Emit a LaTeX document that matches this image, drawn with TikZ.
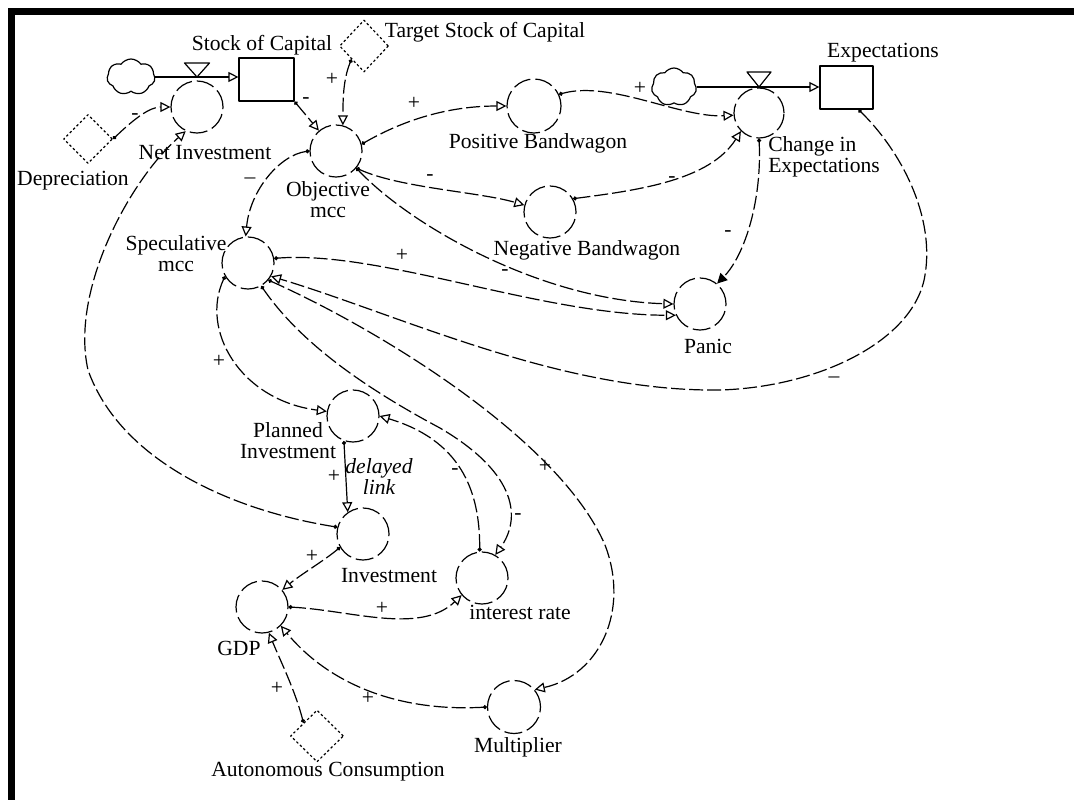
\documentclass[tikz,border=0pt]{standalone}
\usepackage{fontspec}
\setmainfont{Liberation Serif}
\usetikzlibrary{arrows.meta,shapes.geometric,shapes.symbols}
\newcommand{\diafont}{\fontsize{10.8}{10.5}\selectfont}

\begin{document}
\begin{tikzpicture}[x=0.5pt,y=-0.5pt,line width=0.6pt,line join=round,
    >={Triangle[open,length=5pt,width=5pt]},font=\diafont,
    aux/.style={circle,draw,dash pattern=on 9pt off 2.5pt,minimum size=26pt,inner sep=0pt},
    stock/.style={rectangle,draw,inner sep=0pt},
    const/.style={diamond,draw,dash pattern=on 1.2pt off 1.2pt,minimum width=24.5pt,minimum height=24.5pt,inner sep=0pt},
    src/.style={cloud,draw,cloud puffs=7,cloud puff arc=110,aspect=1.3,inner sep=0pt},
    lnk/.style={dash pattern=on 7pt off 2pt,{Circle[length=2pt]}->},
    pipe/.style={->},
    sgn/.style={inner sep=0pt}]
  \fill[white] (0,0) rectangle (1074,800);
  \useasboundingbox (0,0) rectangle (1074,800);
  \fill (8,8) rectangle (1074,15);
  \fill (8,8) rectangle (15,800);

  % stocks, flows and variables
  \node[src,minimum width=24pt,minimum height=18pt] (srcA) at (131,77) {};
  \node[stock,minimum width=27.5pt,minimum height=21.5pt] (StockK) at (266.5,79.5) {};
  \coordinate (vA) at (197,70);
  \node[aux] (NetInv) at (197,107) {};
  \node[const] (Deprec) at (88,139) {};
  \node[const,minimum height=26pt] (TargetK) at (364,46) {};
  \node[aux] (Obj) at (336,151) {};
  \node[aux,minimum size=27pt] (PosB) at (534,106) {};
  \node[aux] (NegB) at (550,212) {};
  \node[src,minimum width=22.5pt,minimum height=19pt] (srcB) at (674,87) {};
  \coordinate (vB) at (759,79);
  \node[aux,minimum size=25pt] (ChgE) at (759,113) {};
  \node[stock,minimum width=26.5pt,minimum height=21.5pt] (ExpB) at (846.5,87.5) {};
  \node[aux] (Spec) at (248,263) {};
  \node[aux] (Panic) at (700,304) {};
  \node[aux] (PlanI) at (353,416) {};
  \node[aux] (Invest) at (363,534) {};
  \node[aux] (IntR) at (482,578) {};
  \node[aux] (GDP) at (262,607) {};
  \node[const,minimum width=26.5pt,minimum height=26pt] (AutoC) at (317,736) {};
  \node[aux,minimum size=26.5pt] (Multi) at (514,707) {};

  % names
  \node (lStockK) at (262,45) {Stock of Capital};
  \node (lNetInv) at (205,153) {Net Investment};
  \node (lDeprec) at (73,181) {Depreciation};
  \node (lTargetK) at (485,32) {Target Stock of Capital};
  \node[align=center] (lObj) at (328,200) {Objective\\mcc};
  \node (lPosB) at (538,143) {Positive Bandwagon};
  \node (lNegB) at (587,250) {Negative Bandwagon};
  \node[align=left,anchor=west] (lChgE) at (761,157) {Change in\\Expectations};
  \node (lExpB) at (883,53) {Expectations};
  \node[align=center] (lSpec) at (176,254) {Speculative\\mcc};
  \node (lPanic) at (708,346) {Panic};
  \node[align=center,inner sep=1pt] (lPlanI) at (288,441) {Planned\\Investment};
  \node[align=center,font=\diafont\itshape] (lDelay) at (379,476) {delayed\\link};
  \node (lInvest) at (389,576) {Investment};
  \node (lIntR) at (520,612) {interest rate};
  \node (lGDP) at (239,648) {GDP};
  \node (lAutoC) at (328,772) {Autonomous Consumption};
  \node (lMulti) at (518,747) {Multiplier};

  % flows
  \draw[pipe] (srcA.east) -- (srcA.east -| StockK.west);
  \draw (vA) ++(-12.5,-7) -- ++(25,0) -- ++(-12.5,14) -- cycle;
  \draw[pipe] (srcB.east) -- (srcB.east -| ExpB.west);
  \draw (vB) ++(-12,-7) -- ++(24,0) -- ++(-12,15) -- cycle;

  % links
  \draw[lnk] (Deprec.east) .. controls (135,118) and (150,107) .. (NetInv.west);
  \draw[lnk] (StockK.south east) -- (Obj.130);
  \draw[lnk] (TargetK.south west) .. controls (343,80) and (343,100) .. (Obj.75);
  \draw[lnk] (Obj.15) .. controls (395,125) and (440,106) .. (PosB.west);
  \draw[lnk] (PosB.25) .. controls (610,80) and (680,118) .. (ChgE.185);
  \draw[lnk] (Obj.-40) .. controls (400,188) and (480,192) .. (NegB.165);
  \draw[lnk] (NegB.30) .. controls (640,190) and (710,180) .. (ChgE.225);
  \draw[lnk,{Circle[length=2pt]}-{Triangle[length=5pt,width=5pt]}] (ChgE.south)
    .. controls (762,200) and (745,255) .. (Panic.50);
  \draw[lnk] ([xshift=6pt]ExpB.south) .. controls (900,150) and (935,215) .. (925,275)
    .. controls (915,340) and (820,387) .. (720,390)
    .. controls (560,392) and (400,315) .. (Spec.-30);
  \draw[lnk] (Obj.west) .. controls (280,155) and (250,190) .. (Spec.95);
  \draw[lnk] (Spec.10) .. controls (380,250) and (540,315) .. (Panic.205);
  \draw[lnk] (Obj.-40) .. controls (410,225) and (540,300) .. (Panic.west);
  \draw[lnk] (Spec.-150) .. controls (200,330) and (240,400) .. (PlanI.170);
  \draw[lnk] (IntR.95) .. controls (480,490) and (460,440) .. (PlanI.east);
  \draw[lnk] (Spec.-60) .. controls (295,335) and (350,380) .. (440,428)
    .. controls (520,475) and (520,520) .. (IntR.60);
  \draw[lnk] (Spec.-40) .. controls (380,330) and (560,440) .. (605,545)
    .. controls (630,610) and (600,675) .. (Multi.40);
  \draw[{Circle[length=2pt]}->] (PlanI.250) -- (Invest.125);
  \draw[lnk] (Invest.-150) .. controls (325,560) and (300,575) .. (GDP.40);
  \draw[lnk] (Invest.165) .. controls (230,510) and (120,460) .. (88,370)
    .. controls (70,290) and (130,180) .. (NetInv.245);
  \draw[lnk] (GDP.east) .. controls (350,610) and (420,635) .. (IntR.220);
  \draw[lnk] (Multi.west) .. controls (400,712) and (330,685) .. (GDP.-45);
  \draw[lnk] (AutoC.north west) .. controls (295,690) and (280,660) .. (GDP.285);

  % polarities
  \node[sgn] (sDep) at (135,117) {-};
  \node[sgn] (sStk) at (306,101) {-};
  \node[sgn] (sTgt) at (332,79) {+};
  \node[sgn] (sPos) at (414,103) {+};
  \node[sgn] (sPosCh) at (640,88) {+};
  \node[sgn] (sNeg) at (430,178) {-};
  \node[sgn] (sNegCh) at (672,180) {-};
  \node[sgn] (sPan) at (728,234) {-};
  \node[sgn] (sObjSp) at (250,181) {--};
  \node[sgn] (sSpPan) at (402,255) {+};
  \node[sgn] (sObjPan) at (505,273) {-};
  \node[sgn] (sExp) at (834,380) {--};
  \node[sgn] (sSpPl) at (219,361) {+};
  \node[sgn] (sIrPl) at (455,472) {-};
  \node[sgn] (sSpIr) at (518,517) {-};
  \node[sgn] (sSpMu) at (545,466) {+};
  \node[sgn] (sPlIn) at (334,476) {+};
  \node[sgn] (sInG) at (312,556) {+};
  \node[sgn] (sGIr) at (382,608) {+};
  \node[sgn] (sMuG) at (368,698) {+};
  \node[sgn] (sAuG) at (277,688) {+};
\end{tikzpicture}
\end{document}
